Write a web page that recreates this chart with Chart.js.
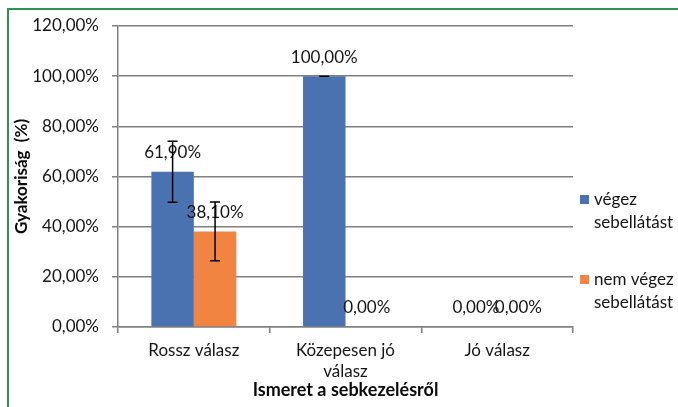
<!DOCTYPE html>
<html>
<head>
<meta charset="utf-8">
<script src="https://cdn.jsdelivr.net/npm/chart.js@4.4.1/dist/chart.umd.min.js"></script>
<style>
  html, body { margin: 0; padding: 0; background: #fff; }
  #wrap { position: relative; width: 678px; height: 407px; overflow: hidden; }
  #frame { position: absolute; left: 7px; top: 8px; width: 700px; height: 420px;
           border-left: 2px solid #2f9254; border-top: 2px solid #2f9254; }
  #myChart { position: absolute; left: 0; top: 0; }
</style>
</head>
<body>
<div id="wrap">
  <div id="frame"></div>
  <canvas id="myChart" width="678" height="407"></canvas>
</div>
<script>
// data
var categories = ['Rossz válasz', ['Közepesen jó', 'válasz'], 'Jó válasz'];
var seriesNames = ['végez sebellátást', 'nem végez sebellátást'];
var vegez = [61.9, 100, 0];
var nemVegez = [38.1, 0, 0];
var vegezErr = [12.2, 0, 0];
var nemVegezErr = [11.7, 0, 0];
var yTicks = [0, 20, 40, 60, 80, 100, 120];

var FONT = 'Lato, "Open Sans", sans-serif';
var TEXT = '#151515';

function pct(v) {
    return v.toFixed(2).replace('.', ',') + '%';
}

// value labels above each bar
var valueLabels = {
    id: 'valueLabels',
    afterDatasetsDraw: function (chart) {
        var ctx = chart.ctx;
        ctx.save();
        ctx.font = '17px ' + FONT;
        ctx.fillStyle = TEXT;
        ctx.textAlign = 'center';
        ctx.textBaseline = 'middle';
        chart.data.datasets.forEach(function (ds, i) {
            chart.getDatasetMeta(i).data.forEach(function (bar, j) {
                ctx.fillText(pct(ds.data[j]), bar.x, bar.y - 19);
            });
        });
        ctx.restore();
    }
};

// error bars, drawn after the labels like in the original
var errorBars = {
    id: 'errorBars',
    afterDraw: function (chart) {
        var ctx = chart.ctx;
        var y = chart.scales.y;
        ctx.save();
        ctx.strokeStyle = '#000';
        ctx.lineWidth = 1.5;
        chart.data.datasets.forEach(function (ds, i) {
            chart.getDatasetMeta(i).data.forEach(function (bar, j) {
                var v = ds.data[j], e = ds.errors[j];
                if (v === 0) return;
                var top = y.getPixelForValue(v + e);
                var bot = y.getPixelForValue(v - e);
                ctx.beginPath();
                ctx.moveTo(bar.x, top); ctx.lineTo(bar.x, bot);
                ctx.moveTo(bar.x - 5, top); ctx.lineTo(bar.x + 5, top);
                ctx.moveTo(bar.x - 5, bot); ctx.lineTo(bar.x + 5, bot);
                ctx.stroke();
            });
        });
        ctx.restore();
    }
};

// legend on the right with wrapped labels
var sideLegend = {
    id: 'sideLegend',
    afterDraw: function (chart) {
        var ctx = chart.ctx;
        var x = chart.chartArea.right + 7;
        var yPos = [200, 280];
        ctx.save();
        ctx.font = '17px ' + FONT;
        ctx.textBaseline = 'middle';
        chart.data.datasets.forEach(function (ds, i) {
            var words = ds.label.split(' ');
            var lines = [], cur = '';
            words.forEach(function (w) {
                var t = cur ? cur + ' ' + w : w;
                if (cur && ctx.measureText(t).width > 92) { lines.push(cur); cur = w; }
                else cur = t;
            });
            lines.push(cur);
            ctx.fillStyle = ds.backgroundColor;
            ctx.fillRect(x, yPos[i] - 5, 9, 9);
            ctx.fillStyle = TEXT;
            ctx.textAlign = 'left';
            lines.forEach(function (l, k) {
                ctx.fillText(l, x + 14, yPos[i] + k * 23);
            });
        });
        ctx.restore();
    }
};

document.addEventListener('DOMContentLoaded', function () {
    var ctx = document.getElementById('myChart').getContext('2d');
    new Chart(ctx, {
        type: 'bar',
        data: {
            labels: categories,
            datasets: [{
                label: seriesNames[0],
                data: vegez,
                errors: vegezErr,
                backgroundColor: '#4a72b0'
            }, {
                label: seriesNames[1],
                data: nemVegez,
                errors: nemVegezErr,
                backgroundColor: '#f28441'
            }]
        },
        options: {
            responsive: false,
            animation: false,
            devicePixelRatio: 1,
            layout: { padding: { left: 0, top: 26, right: 105, bottom: 0 } },
            datasets: { bar: { categoryPercentage: 0.56, barPercentage: 1 } },
            plugins: {
                legend: { display: false },
                tooltip: { enabled: false }
            },
            scales: {
                x: {
                    grid: { drawOnChartArea: false, offset: true, color: '#808080', lineWidth: 1.5, tickLength: 6 },
                    border: { color: '#808080', width: 1.5 },
                    ticks: { color: TEXT, font: { family: FONT, size: 17, lineHeight: 1.25 }, padding: 7, maxRotation: 0 },
                    title: {
                        display: true, text: 'Ismeret a sebkezelésről', color: '#0a0a0a',
                        font: { family: FONT, size: 18, weight: 'bold' }, padding: { top: 0, bottom: 6 }
                    },
                    afterFit: function (s) { s.height = 80; }
                },
                y: {
                    min: 0, max: 120,
                    afterBuildTicks: function (s) { s.ticks = yTicks.map(function (v) { return { value: v }; }); },
                    grid: { color: '#808080', lineWidth: 1.5, tickLength: 6 },
                    border: { color: '#808080', width: 1.5 },
                    ticks: { color: TEXT, font: { family: FONT, size: 17 }, padding: 13, callback: function (v) { return pct(v); } },
                    title: {
                        display: true, text: 'Gyakoriság  (%)', color: '#0a0a0a',
                        font: { family: FONT, size: 17, weight: 'bold' }, padding: { top: 11, bottom: 0 }
                    },
                    afterFit: function (s) { s.width = 118; }
                }
            }
        },
        plugins: [valueLabels, errorBars, sideLegend]
    });
});
</script>
</body>
</html>
